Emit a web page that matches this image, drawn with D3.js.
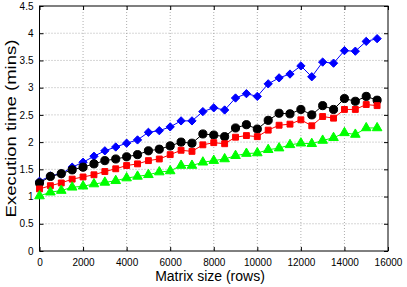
<!DOCTYPE html>
<html>
<head>
<meta charset="utf-8">
<script src="https://cdn.jsdelivr.net/npm/d3@7"></script>
<style>
  body { margin: 0; background: #fff; }
  svg { display: block; font-family: "Liberation Sans", Arial, sans-serif; }
</style>
</head>
<body>
<div id="chart"></div>
<script>
const width = 407;
const height = 287;

// matrix sizes (rows)
const sizes = d3.range(0, 16000, 500);

const blueTimes = [1.28, 1.38, 1.42, 1.54, 1.63, 1.74, 1.84, 1.91, 1.98, 2.04, 2.18, 2.21, 2.28, 2.39, 2.39, 2.56,
    2.63, 2.59, 2.81, 2.89, 2.84, 3.07, 3.18, 3.25, 3.40, 3.20, 3.47, 3.45, 3.68, 3.67, 3.85, 3.90];
const blackTimes = [1.25, 1.37, 1.42, 1.49, 1.54, 1.60, 1.66, 1.69, 1.73, 1.77, 1.84, 1.87, 1.93, 2.00, 1.98, 2.15,
    2.13, 2.10, 2.26, 2.32, 2.24, 2.40, 2.53, 2.52, 2.60, 2.50, 2.67, 2.60, 2.80, 2.75, 2.84, 2.77];
const redTimes = [1.14, 1.20, 1.25, 1.32, 1.36, 1.40, 1.46, 1.51, 1.57, 1.60, 1.66, 1.69, 1.77, 1.85, 1.83, 1.95,
    1.99, 1.97, 2.09, 2.12, 2.10, 2.22, 2.31, 2.33, 2.41, 2.30, 2.47, 2.44, 2.60, 2.60, 2.69, 2.67];
const greenTimes = [1.01, 1.08, 1.11, 1.17, 1.19, 1.23, 1.26, 1.29, 1.34, 1.37, 1.40, 1.45, 1.47, 1.57, 1.57, 1.63,
    1.66, 1.69, 1.75, 1.79, 1.80, 1.86, 1.89, 1.95, 1.98, 1.97, 2.03, 2.08, 2.17, 2.14, 2.26, 2.26];

const xTicks = d3.range(0, 16001, 2000);
const yTicks = [0, 0.5, 1, 1.5, 2, 2.5, 3, 3.5, 4, 4.5];

const series = [
    { values: blueTimes, color: "#0000ff", symbol: d3.symbolDiamond2, size: 44 },
    { values: blackTimes, color: "#000000", symbol: d3.symbolCircle, size: 52 },
    { values: redTimes, color: "#ff0000", symbol: d3.symbolSquare2, size: 44 },
    { values: greenTimes, color: "#00ff00", symbol: d3.symbolTriangle, size: 40 }
];

const margin = { top: 6, right: 19, bottom: 36, left: 39.5 };
const w = width - margin.left - margin.right;
const h = height - margin.top - margin.bottom;

const svg = d3.select("#chart")
    .append("svg")
    .attr("width", width)
    .attr("height", height);

const g = svg.append("g")
    .attr("transform", `translate(${margin.left},${margin.top})`);

const x = d3.scaleLinear().domain([0, 16000]).range([0, w]);
const y = d3.scaleLinear().domain([0, 4.5]).range([h, 0]);

// dotted grid
g.append("g")
    .selectAll("line")
    .data(xTicks.slice(1, -1))
    .join("line")
    .attr("x1", d => x(d)).attr("x2", d => x(d))
    .attr("y1", 0).attr("y2", h)
    .attr("stroke", "#999")
    .attr("stroke-width", 0.8)
    .attr("stroke-dasharray", "1,2");

g.append("g")
    .selectAll("line")
    .data(yTicks.slice(1, -1))
    .join("line")
    .attr("x1", 0).attr("x2", w)
    .attr("y1", d => y(d)).attr("y2", d => y(d))
    .attr("stroke", "#999")
    .attr("stroke-width", 0.8)
    .attr("stroke-dasharray", "1,2");

// axes, ticks pointing inside on all four sides
g.append("g")
    .attr("transform", `translate(0,${h})`)
    .call(d3.axisBottom(x).tickValues(xTicks).tickFormat(d3.format("d"))
        .tickSizeInner(-4).tickSizeOuter(0).tickPadding(8));
g.append("g")
    .call(d3.axisLeft(y).tickValues(yTicks).tickFormat(d3.format(""))
        .tickSizeInner(-4).tickSizeOuter(0).tickPadding(6));
g.append("g")
    .call(d3.axisTop(x).tickValues(xTicks).tickSizeInner(-4).tickSizeOuter(0).tickFormat(""));
g.append("g")
    .attr("transform", `translate(${w},0)`)
    .call(d3.axisRight(y).tickValues(yTicks).tickSizeInner(-4).tickSizeOuter(0).tickFormat(""));

g.selectAll(".domain").remove();
g.selectAll(".tick text")
    .attr("font-family", "Liberation Sans, Arial, sans-serif")
    .attr("font-size", 10)
    .attr("fill", "#000");

g.append("rect")
    .attr("width", w).attr("height", h)
    .attr("fill", "none")
    .attr("stroke", "#000")
    .attr("stroke-width", 1);

// series
const line = d3.line()
    .x((d, i) => x(sizes[i]))
    .y(d => y(d));

series.forEach(s => {
    g.append("path")
        .datum(s.values)
        .attr("fill", "none")
        .attr("stroke", s.color)
        .attr("stroke-width", 1)
        .attr("d", line);
    g.append("g")
        .selectAll("path")
        .data(s.values)
        .join("path")
        .attr("transform", (d, i) => `translate(${x(sizes[i])},${y(d)})`)
        .attr("d", d3.symbol().type(s.symbol).size(s.size))
        .attr("fill", s.color)
        .attr("stroke", s.color)
        .attr("stroke-width", 1);
});

// titles
svg.append("text")
    .attr("x", 210)
    .attr("y", 281)
    .attr("text-anchor", "middle")
    .attr("font-size", 14)
    .text("Matrix size (rows)");

svg.append("text")
    .attr("transform", `translate(16,${margin.top + h / 2}) rotate(-90) scale(1,0.8)`)
    .attr("text-anchor", "middle")
    .attr("font-size", 18.5)
    .text("Execution time (mins)");
</script>
</body>
</html>
